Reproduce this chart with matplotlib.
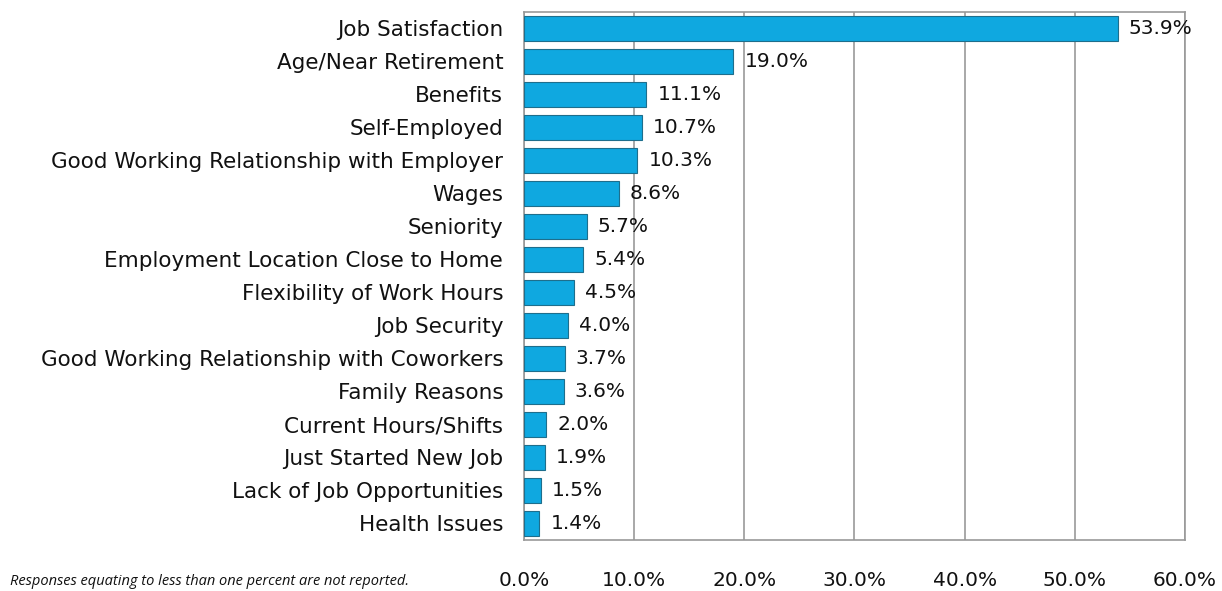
import numpy as np
import matplotlib.pyplot as plt

reasons = ["Job Satisfaction", "Age/Near Retirement", "Benefits", "Self-Employed",
           "Good Working Relationship with Employer", "Wages", "Seniority",
           "Employment Location Close to Home", "Flexibility of Work Hours",
           "Job Security", "Good Working Relationship with Coworkers",
           "Family Reasons", "Current Hours/Shifts", "Just Started New Job",
           "Lack of Job Opportunities", "Health Issues"]
pct = [53.9, 19.0, 11.1, 10.7, 10.3, 8.6, 5.7, 5.4, 4.5, 4.0, 3.7, 3.6, 2.0, 1.9, 1.5, 1.4]
xticks = [0, 10, 20, 30, 40, 50, 60]

plt.rcParams['font.family'] = ['DejaVu Sans']

fig = plt.figure(figsize=(12.22, 5.91), dpi=100)
ax = fig.add_axes([0.4288, 0.0863, 0.5409, 0.8934])

y = np.arange(len(reasons))
ax.barh(y, pct, height=0.76, color='#0FA8E0', edgecolor='#1E6E8C', linewidth=0.8, zorder=3)
for yi, v in zip(y, pct):
    ax.annotate("%.1f%%" % v, (v, yi), xytext=(8, 0), textcoords='offset points',
                va='center', ha='left', fontsize=14.5, color='#111111')

ax.set_yticks(y)
ax.set_yticklabels(reasons, fontsize=15.5, color='#111111')
ax.set_ylim(len(reasons) - 0.5, -0.5)
ax.set_xlim(0, 60)
ax.set_xticks(xticks)
ax.set_xticklabels(["%.1f%%" % t for t in xticks], fontsize=14.5, color='#111111')
ax.tick_params(length=0)
ax.tick_params(axis='x', pad=22)
ax.tick_params(axis='y', pad=15)
ax.grid(axis='x', color='#999999', linewidth=1.2, zorder=0)
for s in ax.spines.values():
    s.set_color('#999999')
    s.set_linewidth(1.2)

fig.text(0.008, 0.01, "Responses equating to less than one percent are not reported.",
         fontsize=10.5, style='italic', family='Open Sans', color='#111111')

fig.savefig("out.png", dpi=100)
